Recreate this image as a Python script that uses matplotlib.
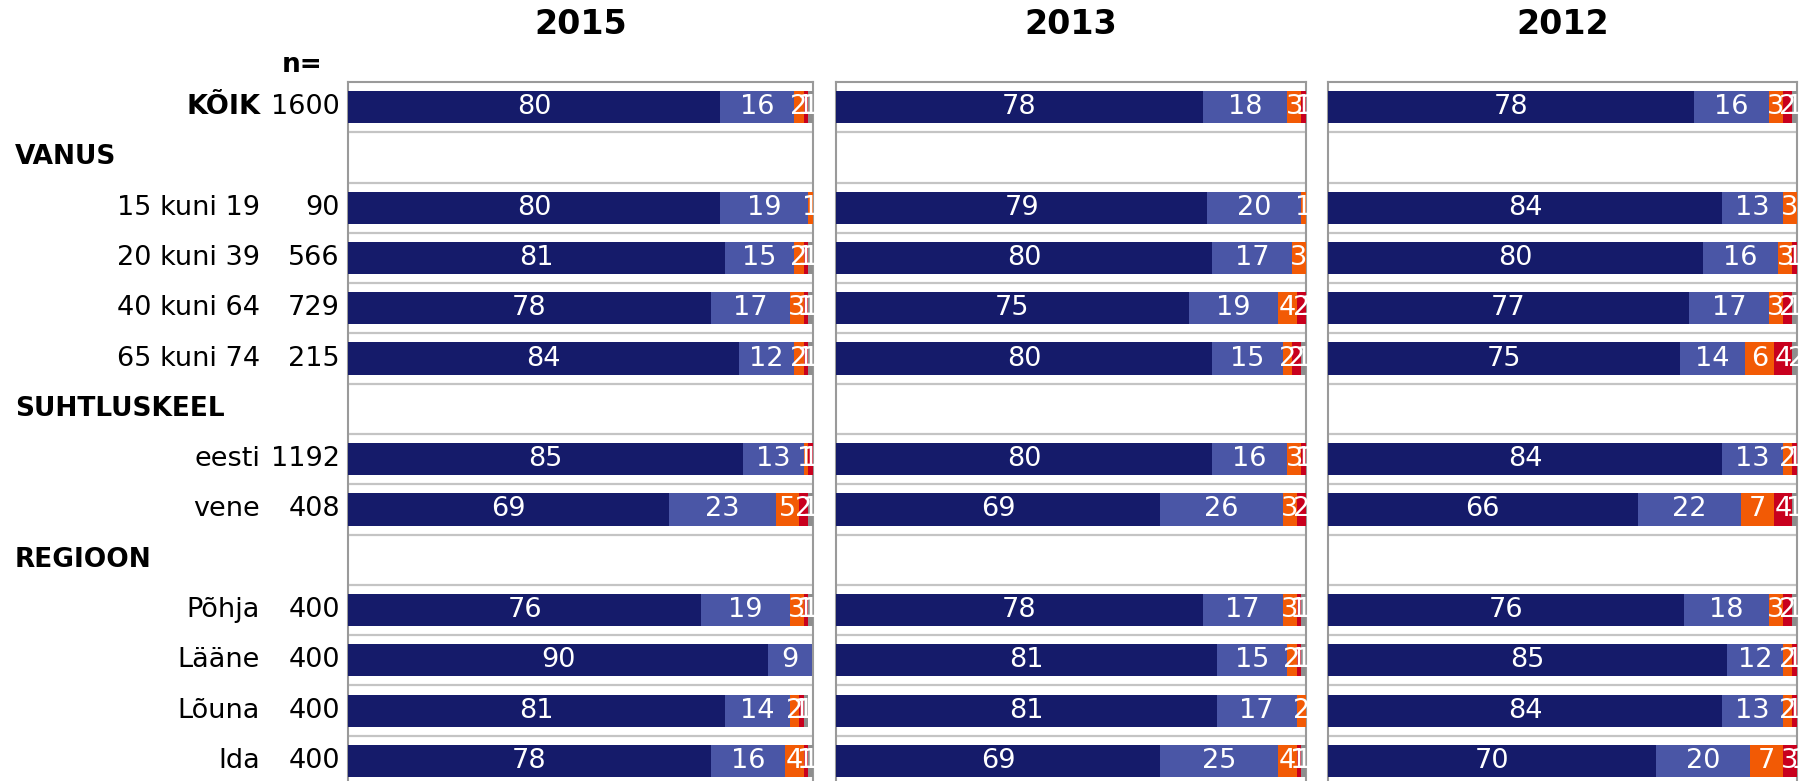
import matplotlib.pyplot as plt
from matplotlib import transforms
import numpy as np

# rows of the chart (section headers have no bar)
row_labels = ['KÕIK', 'VANUS', '15 kuni 19', '20 kuni 39', '40 kuni 64', '65 kuni 74',
              'SUHTLUSKEEL', 'eesti', 'vene', 'REGIOON', 'Põhja', 'Lääne', 'Lõuna', 'Ida']
headers = ['VANUS', 'SUHTLUSKEEL', 'REGIOON']
n_values = ['1600', '', '90', '566', '729', '215', '', '1192', '408', '', '400', '400', '400', '400']

years = ['2015', '2013', '2012']

# 5 answer categories per row, only rows with a bar
data_2015 = [
    [80, 16, 2, 1, 1],
    [80, 19, 1, 0, 0],
    [81, 15, 2, 1, 1],
    [78, 17, 3, 1, 1],
    [84, 12, 2, 1, 1],
    [85, 13, 1, 1, 0],
    [69, 23, 5, 2, 1],
    [76, 19, 3, 1, 1],
    [90.3, 9.4, 0, 0, 0],
    [81, 14, 2, 1, 1],
    [78, 16, 4, 1, 1],
]
data_2013 = [
    [78, 18, 3, 1, 1],
    [79, 20, 1, 0, 0],
    [80, 17, 3, 0, 0],
    [75, 19, 4, 2, 1],
    [80, 15, 2, 2, 1],
    [80, 16, 3, 1, 1],
    [69, 26, 3, 2, 0],
    [78, 17, 3, 1, 1],
    [81, 15, 2, 1, 1],
    [81, 17, 2, 0, 0],
    [69, 25, 4, 1, 1],
]
data_2012 = [
    [78, 16, 3, 2, 1],
    [84, 13, 3, 0, 0],
    [80, 16, 3, 1, 0],
    [77, 17, 3, 2, 1],
    [75, 14, 6, 4, 2],
    [84, 13, 2, 1, 0],
    [66, 22, 7, 4, 1],
    [76, 18, 3, 2, 1],
    [85, 12, 2, 1, 0],
    [84, 13, 2, 1, 0],
    [70, 20, 7, 3, 1],
]
all_data = [data_2015, data_2013, data_2012]

colors = ['#151B6A', '#4A56A6', '#F25A05', '#C8001E', '#8E8E8E']

W, H = 1801, 781
fig = plt.figure(figsize=(W / 100, H / 100), dpi=100)

# panel positions in pixels (left, right)
panels_px = [(348, 813), (836, 1306), (1328, 1797)]
top_px = 82
ylim_bottom = 13.4

bar_rows = [i for i, lab in enumerate(row_labels) if lab not in headers]

axes = []
for k, (l, r) in enumerate(panels_px):
    ax = fig.add_axes([l / W, 0, (r - l) / W, 1 - top_px / H])
    axes.append(ax)
    vals = np.array(all_data[k], dtype=float)
    left = np.zeros(len(bar_rows))
    for c in range(5):
        ax.barh(bar_rows, vals[:, c], left=left, height=0.64, color=colors[c],
                edgecolor='none', zorder=3)
        for y, x0, v in zip(bar_rows, left, vals[:, c]):
            if v > 0:
                ax.text(x0 + v / 2, y, '%.0f' % v, ha='center', va='center',
                        color='white', fontsize=19.5, zorder=4)
        left += vals[:, c]
    for b in np.arange(0.5, 13.5, 1):
        ax.axhline(b, color='#C4C4C4', lw=1.6, zorder=1)
    ax.set_xlim(0, 100)
    ax.set_ylim(ylim_bottom, -0.5)
    ax.set_xticks([])
    ax.set_yticks([])
    for s in ['left', 'right', 'top']:
        ax.spines[s].set_color('#9A9A9A')
        ax.spines[s].set_linewidth(1.5)
    ax.spines['bottom'].set_visible(False)
    fig.text(((l + r) / 2) / W, 1 - 25 / H, years[k], ha='center', va='center',
             fontsize=24, fontweight='bold')

# row labels and n values
trans = transforms.blended_transform_factory(fig.transFigure, axes[0].transData)
for i, lab in enumerate(row_labels):
    if lab in headers:
        fig.text(15 / W, i, lab, transform=trans, ha='left', va='center',
                 fontsize=19, fontweight='bold')
    else:
        weight = 'bold' if lab == 'KÕIK' else 'normal'
        fig.text(260 / W, i, lab, transform=trans, ha='right', va='center',
                 fontsize=19.5, fontweight=weight)
        fig.text(340 / W, i, n_values[i], transform=trans, ha='right', va='center',
                 fontsize=19.5)

fig.text(302 / W, 1 - 65 / H, 'n=', ha='center', va='center', fontsize=19, fontweight='bold')

fig.savefig('out.png', dpi=100)
